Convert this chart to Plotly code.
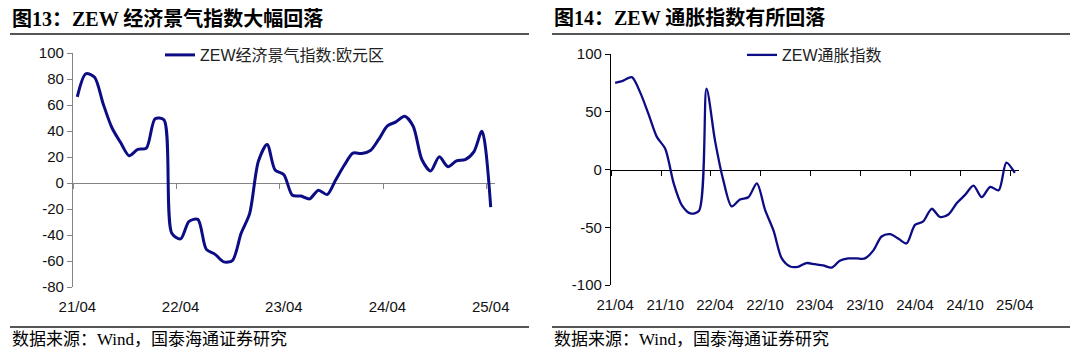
import pandas as pd
import plotly.graph_objects as go

# ---------------- data ----------------
months = pd.date_range("2021-04-01", "2025-04-01", freq="MS")

zew_sentiment = [66.3, 84.0, 81.3, 61.2, 42.7, 31.1, 21.0, 25.9, 26.8,
                 49.4, 48.6, -38.7, -43.0, -29.5, -28.0, -51.1, -54.9, -60.7, -59.7, -38.7, -23.6,
                 16.7, 29.7, 10.0, 6.4, -9.4, -10.0, -12.2, -5.5, -8.9, 2.3, 13.8, 23.0,
                 22.7, 25.0, 33.5, 43.9, 47.0, 51.3, 43.7, 17.9, 9.3, 20.1, 12.5, 17.0,
                 18.0, 24.2, 39.8, -18.5]

zew_inflation = [75, 77, 80, 67, 48, 28, 18, -12, -31, -38, -36,
                 70, 25, -9, -32, -26, -24, -12, -35, -53, -77, -84, -84, -81,
                 -82, -83, -85, -79, -77, -77, -77, -70, -58, -56, -60, -64,
                 -48, -45, -34, -41, -39, -29, -22, -14, -24, -15, -18, 6, -3]

left_yticks = [-80, -60, -40, -20, 0, 20, 40, 60, 80, 100]
right_yticks = [-100, -50, 0, 50, 100]

left_title = "图13：ZEW 经济景气指数大幅回落"
right_title = "图14：ZEW 通胀指数有所回落"
left_name = "ZEW经济景气指数:欧元区"
right_name = "ZEW通胀指数"
source_text = "数据来源：Wind，国泰海通证券研究"

# ---------------- helpers ----------------
half = pd.Timedelta(days=15.2)
x_lo = months[0] - half
x_hi = months[-1] + half
LINE = "#0c0c84"
W, H = 1080, 351

fig = go.Figure()

fig.add_trace(go.Scatter(x=months, y=zew_sentiment, mode="lines", name=left_name,
                         line=dict(color=LINE, width=3, shape="spline", smoothing=0.8),
                         xaxis="x", yaxis="y", legend="legend"))
fig.add_trace(go.Scatter(x=months, y=zew_inflation, mode="lines", name=right_name,
                         line=dict(color=LINE, width=2.3, shape="spline", smoothing=0.8),
                         xaxis="x2", yaxis="y2", legend="legend2"))

tickfont = dict(family="Liberation Sans, Arial, sans-serif", size=15, color="#111")


def zero_pos(dom, rng):
    return dom[0] + (0 - rng[0]) / (rng[1] - rng[0]) * (dom[1] - dom[0])


# left chart geometry
Lx = [73 / W, 495 / W]
Ly = [1 - 287 / H, 1 - 53 / H]
Lr = [-80, 100]
# right chart geometry
Rx = [611 / W, 1019 / W]
Ry = [1 - 285 / H, 1 - 54 / H]
Rr = [-100, 100]

left_lab = list(months[::12])
right_lab = list(months[::6])


def fmt(v):
    return str(v).replace("\u2212", "-")


legend_font = dict(family="Liberation Sans, Noto Sans CJK SC", size=16, color="#222")

fig.update_layout(
    width=W, height=H, margin=dict(l=0, r=0, t=0, b=0, autoexpand=False),
    paper_bgcolor="white", plot_bgcolor="white",
    xaxis=dict(domain=Lx, anchor="free", position=zero_pos(Ly, Lr), range=[x_lo, x_hi],
               automargin=False,
               showgrid=False, zeroline=False, showline=True, linecolor="#858585", linewidth=1.3,
               tickvals=left_lab, ticktext=[d.strftime("%y/%m") for d in left_lab],
               ticks="", ticklabelstandoff=int(round((zero_pos(Ly, Lr) - Ly[0]) * H + 6)),
               tickfont=tickfont, layer="below traces",
               minor=dict(tickmode="array", tickvals=[d - half for d in left_lab], ticks="outside",
                          ticklen=5, tickwidth=1.3, tickcolor="#858585", showgrid=False)),
    yaxis=dict(domain=Ly, anchor="x", range=Lr, showgrid=False, zeroline=False, automargin=False,
               tickvals=left_yticks, ticktext=[fmt(v) for v in left_yticks],
               showline=True, linecolor="#858585", linewidth=1.3, ticks="outside", ticklen=5,
               tickwidth=1.3, tickcolor="#858585", tickfont=tickfont, position=Lx[0]),
    xaxis2=dict(domain=Rx, anchor="free", position=zero_pos(Ry, Rr), range=[x_lo, x_hi],
                automargin=False,
                showgrid=False, zeroline=False, showline=True, linecolor="#000", linewidth=1.3,
                tickvals=right_lab, ticktext=[d.strftime("%y/%m") for d in right_lab],
                ticks="", ticklabelstandoff=int(round((zero_pos(Ry, Rr) - Ry[0]) * H + 6)),
                tickfont=tickfont, layer="below traces",
                minor=dict(tickmode="array", tickvals=[d - half for d in right_lab], ticks="outside",
                           ticklen=5, tickwidth=1.3, tickcolor="#000", showgrid=False)),
    yaxis2=dict(domain=Ry, anchor="x2", range=Rr, showgrid=False, zeroline=False, automargin=False,
                tickvals=right_yticks, ticktext=[fmt(v) for v in right_yticks],
                showline=True, linecolor="#000", linewidth=1.3, ticks="outside", ticklen=5,
                tickwidth=1.3, tickcolor="#000", tickfont=tickfont),
    legend=dict(x=160 / W, y=1 - 55 / H, xanchor="left", yanchor="middle", bgcolor="rgba(0,0,0,0)",
                font=legend_font),
    legend2=dict(x=742 / W, y=1 - 55 / H, xanchor="left", yanchor="middle", bgcolor="rgba(0,0,0,0)",
                 font=legend_font),
    showlegend=True,
)

title_font = dict(family="Liberation Serif, Noto Sans CJK SC", size=20, color="#000")
src_font = dict(family="Liberation Serif, Noto Sans CJK SC", size=17, color="#000")
for xs, txt in [(10, left_title), (552, right_title)]:
    fig.add_annotation(x=xs / W, y=1 - 18 / H, xref="paper", yref="paper", xanchor="left",
                       yanchor="middle", text="<b>" + txt + "</b>", showarrow=False, font=title_font)
for xs in [10, 552]:
    fig.add_annotation(x=xs / W, y=1 - 339 / H, xref="paper", yref="paper", xanchor="left",
                       yanchor="middle", text=source_text, showarrow=False, font=src_font)

for x0, x1 in [(10, 529), (552, 1070)]:
    for yy in [34, 327]:
        fig.add_shape(type="line", xref="paper", yref="paper", x0=x0 / W, x1=x1 / W,
                      y0=1 - yy / H, y1=1 - yy / H, line=dict(color="#555", width=2))

fig.write_html("out.html")
